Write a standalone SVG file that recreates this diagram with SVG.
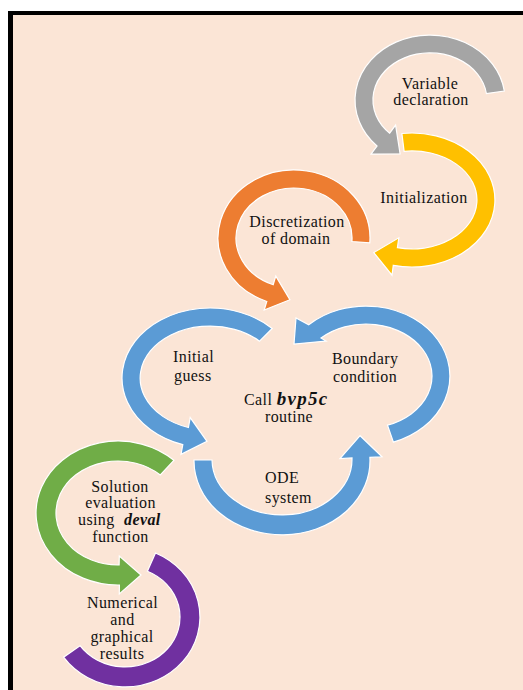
<svg xmlns="http://www.w3.org/2000/svg" width="523" height="690" viewBox="0 0 523 690">
<style>
text{font-family:"Liberation Serif","Times New Roman",serif;font-size:16px;letter-spacing:0.4px;fill:#111}
.m{text-anchor:middle}
.bi{font-weight:bold;font-style:italic}
.arc{stroke:#fff;stroke-width:1.2;stroke-linejoin:miter}
</style>
<rect x="0" y="0" width="523" height="690" fill="#fff"/>
<rect x="8" y="11" width="515" height="679" fill="#FBE5D6"/>
<g id="frame" stroke="#000">
<line x1="8" y1="13" x2="523" y2="13" stroke-width="4"/>
<line x1="10.5" y1="11" x2="10.5" y2="690" stroke-width="5"/>
</g>
<g id="variable-declaration">
<path class="arc" fill="#A5A5A5" d="M504.3,91 A75,65 0 1 0 377,146 L371,154.1 L400.1,153.8 L395.6,125.1 L389.7,133.2 A57,47 0 1 1 486.4,93.5 Z"/>
<text class="m" x="430" y="88.5">Variable</text>
<text class="m" x="431" y="105">declaration</text>
</g>
<g id="initialization">
<path class="arc" fill="#FFC000" d="M401.9,133.5 A83,67 0 1 1 393.3,265.3 L392,275.2 L373.8,252.6 L398.8,237.8 L397.4,247.7 A65,49 0 1 0 404.1,151.3 Z"/>
<text class="m" x="424" y="203" letter-spacing="0.8">Initialization</text>
</g>
<g id="discretization">
<path class="arc" fill="#ED7D31" d="M369.8,242.8 A76,68 0 1 0 266.8,301.5 L264.2,310.1 L289.9,299.8 L275.8,276.1 L273.2,284.7 A58,50 0 1 1 351.9,241.5 Z"/>
<text class="m" x="297" y="226.5">Discretization</text>
<text class="m" x="296" y="243.5">of domain</text>
</g>
<g id="initial-guess">
<path class="arc" fill="#5B9BD5" d="M272.2,328.5 A88,70 0 1 0 182.8,444.6 L181,454.4 L207,441.3 L190.2,417.6 L188.4,427.5 A70,52 0 1 1 259.5,341.2 Z"/>
<text x="173" y="362">Initial</text>
<text x="174" y="380.5">guess</text>
</g>
<g id="boundary-condition">
<path class="arc" fill="#5B9BD5" d="M393.4,442.2 A84,70 0 1 0 308.7,324.8 L296,318 L294,344 L326,341 L321,338 A66,52 0 1 1 387.5,425.2 Z"/>
<text x="332" y="364">Boundary</text>
<text x="333" y="382">condition</text>
</g>
<g id="ode-system">
<path class="arc" fill="#5B9BD5" d="M194,460 A88,74 0 1 0 369.9,457.4 L382,456.8 L360.1,435.7 L340,458.6 L352,457.9 A70,56 0 1 1 212,460 Z"/>
<text x="265" y="483">ODE</text>
<text x="265" y="502.5">system</text>
</g>
<g id="call-bvp5c">
<text x="244" y="405">Call <tspan class="bi" font-size="19" letter-spacing="1.3">bvp5c</tspan></text>
<text class="m" x="289" y="422">routine</text>
</g>
<g id="solution-evaluation">
<path class="arc" fill="#70AD47" d="M173.9,460.3 A82,72 0 1 0 119.4,585 L119.3,594 L141,575 L119.3,556 L119.1,565 A62,52 0 1 1 160.3,475 Z"/>
<text class="m" x="120" y="491.5">Solution</text>
<text class="m" x="120.5" y="508">evaluation</text>
<text x="78" y="525">using<tspan class="bi" x="124">deval</tspan></text>
<text class="m" x="120.5" y="541.5">function</text>
</g>
<g id="results">
<path class="arc" fill="#7030A0" d="M155.5,553 A75,70 0 1 1 63.6,657.2 L80,645.7 A55,50 0 1 0 147.4,571.3 Z"/>
<text class="m" x="122.5" y="607.5">Numerical</text>
<text class="m" x="122.5" y="624.5">and</text>
<text class="m" x="122" y="641.5">graphical</text>
<text class="m" x="122" y="658.5">results</text>
</g>
<g id="connectors"></g>
</svg>
